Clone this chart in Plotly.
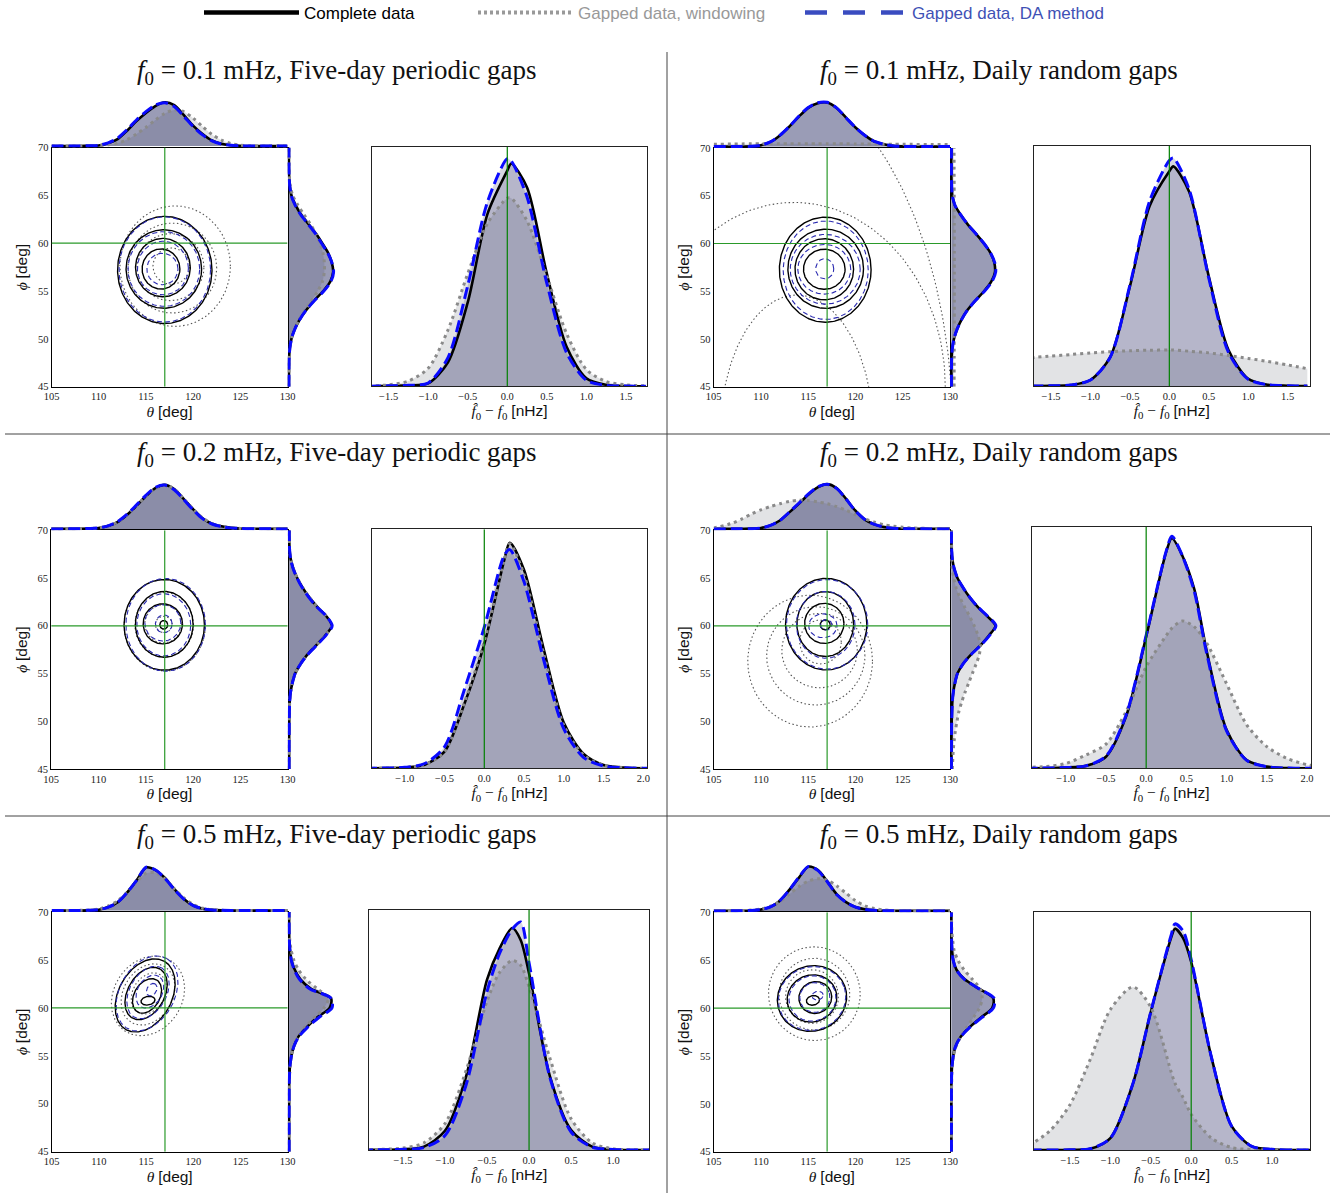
import numpy as np
import plotly.graph_objects as go

# ======================= DATA =======================
LEGEND_LABELS = ["Complete data", "Gapped data, windowing", "Gapped data, DA method"]
PANEL_TITLES = [
    "<i>f</i><sub>0</sub> = 0.1 mHz, Five-day periodic gaps",
    "<i>f</i><sub>0</sub> = 0.1 mHz, Daily random gaps",
    "<i>f</i><sub>0</sub> = 0.2 mHz, Five-day periodic gaps",
    "<i>f</i><sub>0</sub> = 0.2 mHz, Daily random gaps",
    "<i>f</i><sub>0</sub> = 0.5 mHz, Five-day periodic gaps",
    "<i>f</i><sub>0</sub> = 0.5 mHz, Daily random gaps",
]
THETA_TRUE = 117.0
PHI_TRUE = 60.0
FREQ_TRUE = 0.0
THETA_RANGE = [105, 130]
PHI_RANGE = [45, 70]
THETA_TICKS = [105, 110, 115, 120, 125, 130]
PHI_TICKS = [45, 50, 55, 60, 65, 70]
FREQ_TICKS_A = [-1.5, -1.0, -0.5, 0.0, 0.5, 1.0, 1.5]
FREQ_TICKS_B = [-1.0, -0.5, 0.0, 0.5, 1.0, 1.5, 2.0]
FREQ_TICKS_C = [-1.5, -1.0, -0.5, 0.0, 0.5, 1.0]

TH = [105, 107, 108, 109, 110, 111, 112, 113, 114, 115, 116, 117, 118, 119, 120, 121, 122, 123, 124, 125, 126, 128, 130]
PH = [45, 47, 48, 49, 50, 51, 52, 53, 54, 55, 56, 57, 58, 59, 60, 61, 62, 63, 64, 65, 66, 67, 68, 70]

P1_FREQ_X = [-1.75, -1.5, -1.25, -1.0, -0.75, -0.5, -0.25, 0.0, 0.05, 0.25, 0.5, 0.75, 1.0, 1.25, 1.5, 1.75]
P1_FREQ_COMPLETE = [0, 0.002, 0.004, 0.012, 0.10, 0.35, 0.72, 0.90, 0.93, 0.83, 0.47, 0.165, 0.033, 0.006, 0.001, 0]
P1_FREQ_WINDOW = [0.002, 0.006, 0.022, 0.075, 0.235, 0.47, 0.68, 0.785, 0.785, 0.69, 0.46, 0.22, 0.07, 0.02, 0.006, 0.002]
P1_FREQ_DA = [0, 0.002, 0.004, 0.014, 0.12, 0.42, 0.77, 0.95, 0.94, 0.79, 0.43, 0.14, 0.025, 0.004, 0.001, 0]
P1_THETA_COMPLETE = [0, 0.001, 0.003, 0.007, 0.014, 0.06, 0.15, 0.33, 0.535, 0.71, 0.86, 0.94, 0.88, 0.67, 0.44, 0.26, 0.12, 0.05, 0.02, 0.006, 0.002, 0, 0]
P1_THETA_WINDOW = [0, 0.001, 0.002, 0.005, 0.01, 0.03, 0.06, 0.14, 0.26, 0.40, 0.56, 0.70, 0.775, 0.74, 0.60, 0.42, 0.25, 0.13, 0.055, 0.02, 0.008, 0.001, 0]
P1_THETA_DA = [0, 0.001, 0.003, 0.008, 0.018, 0.07, 0.17, 0.35, 0.56, 0.74, 0.88, 0.93, 0.85, 0.64, 0.42, 0.24, 0.11, 0.045, 0.017, 0.005, 0.002, 0, 0]
P1_PHI_COMPLETE = [0, 0.002, 0.005, 0.02, 0.055, 0.125, 0.23, 0.37, 0.54, 0.74, 0.89, 0.95, 0.92, 0.84, 0.715, 0.58, 0.42, 0.26, 0.14, 0.055, 0.02, 0.005, 0.001, 0]
P1_PHI_WINDOW = [0, 0.002, 0.005, 0.02, 0.055, 0.12, 0.22, 0.35, 0.49, 0.62, 0.72, 0.76, 0.76, 0.73, 0.67, 0.58, 0.46, 0.32, 0.19, 0.08, 0.03, 0.01, 0.003, 0]
P1_PHI_DA = [0, 0.002, 0.005, 0.02, 0.055, 0.125, 0.23, 0.37, 0.55, 0.75, 0.90, 0.96, 0.92, 0.83, 0.70, 0.57, 0.41, 0.25, 0.13, 0.05, 0.018, 0.005, 0.001, 0]
P1_CONT_COMPLETE = [(117.0, 57.2, 5.0, 5.6, 0), (116.9, 57.3, 4.0, 4.1, 0), (116.8, 57.45, 2.9, 3.05, 0), (116.6, 57.3, 2.0, 2.1, 0)]
P1_CONT_WINDOW = [(118.1, 57.6, 5.85, 6.3, 0), (117.8, 57.4, 4.7, 4.7, 0), (117.6, 57.5, 3.55, 3.5, 0), (117.7, 57.6, 1.95, 1.9, 0)]
P1_CONT_DA = [(117.0, 57.25, 4.85, 5.5, 0), (116.9, 57.3, 3.8, 3.9, 0), (116.8, 57.4, 2.7, 2.8, 0), (116.75, 57.3, 1.65, 1.65, 0)]

P2_FREQ_X = [-1.75, -1.5, -1.25, -1.0, -0.75, -0.5, -0.25, 0.0, 0.05, 0.25, 0.5, 0.75, 1.0, 1.25, 1.5, 1.75]
P2_FREQ_COMPLETE = [0, 0.001, 0.004, 0.025, 0.12, 0.415, 0.75, 0.895, 0.915, 0.81, 0.457, 0.15, 0.03, 0.005, 0.001, 0]
P2_FREQ_WINDOW = [0.118, 0.125, 0.131, 0.138, 0.143, 0.147, 0.149, 0.15, 0.15, 0.145, 0.138, 0.127, 0.115, 0.102, 0.088, 0.072]
P2_FREQ_DA = [0, 0.001, 0.004, 0.025, 0.12, 0.42, 0.77, 0.94, 0.95, 0.82, 0.45, 0.14, 0.028, 0.005, 0.001, 0]
P2_THETA_COMPLETE = [0, 0.001, 0.002, 0.005, 0.03, 0.10, 0.24, 0.43, 0.64, 0.83, 0.93, 0.945, 0.83, 0.62, 0.41, 0.24, 0.11, 0.05, 0.015, 0.004, 0.001, 0, 0]
P2_THETA_WINDOW = [0.05, 0.055, 0.058, 0.06, 0.061, 0.062, 0.063, 0.063, 0.063, 0.062, 0.062, 0.061, 0.06, 0.059, 0.058, 0.056, 0.055, 0.053, 0.051, 0.05, 0.048, 0.045, 0.042]
P2_THETA_DA = [0, 0.001, 0.002, 0.005, 0.03, 0.10, 0.24, 0.43, 0.65, 0.84, 0.94, 0.95, 0.83, 0.62, 0.41, 0.24, 0.11, 0.05, 0.015, 0.004, 0.001, 0, 0]
P2_PHI_COMPLETE = [0, 0.002, 0.005, 0.02, 0.055, 0.12, 0.215, 0.34, 0.51, 0.70, 0.855, 0.935, 0.92, 0.84, 0.70, 0.53, 0.35, 0.20, 0.076, 0.02, 0.005, 0.001, 0, 0]
P2_PHI_WINDOW = [0.058, 0.059, 0.06, 0.06, 0.061, 0.061, 0.062, 0.062, 0.062, 0.062, 0.062, 0.062, 0.062, 0.062, 0.062, 0.062, 0.061, 0.061, 0.06, 0.06, 0.059, 0.059, 0.058, 0.057]
P2_PHI_DA = [0, 0.002, 0.005, 0.02, 0.055, 0.12, 0.215, 0.34, 0.51, 0.71, 0.87, 0.95, 0.93, 0.84, 0.70, 0.53, 0.35, 0.20, 0.076, 0.02, 0.005, 0.001, 0, 0]
P2_CONT_COMPLETE = [(116.8, 57.25, 4.85, 5.5, 0), (116.85, 57.35, 4.0, 4.15, 0), (116.7, 57.3, 3.1, 3.2, 0), (116.7, 57.3, 2.2, 2.1, 0)]
P2_CONT_WINDOW = [(110.0, 40.0, 20.3, 38.0, 0), (113.5, 45.0, 16.0, 19.3, 0), (113.8, 40.0, 8.1, 14.6, 0)]
P2_CONT_DA = [(116.85, 57.2, 4.5, 5.15, 0), (116.8, 57.3, 3.7, 3.65, 0), (116.7, 57.3, 2.8, 2.6, 0), (116.75, 57.35, 0.95, 1.05, 0)]

P3_FREQ_X = [-1.5, -1.25, -1.0, -0.75, -0.5, -0.25, 0.0, 0.25, 0.32, 0.5, 0.75, 1.0, 1.25, 1.5, 1.75, 2.0, 2.1]
P3_FREQ_COMPLETE = [0, 0.001, 0.003, 0.015, 0.07, 0.27, 0.52, 0.87, 0.944, 0.83, 0.495, 0.19, 0.06, 0.014, 0.003, 0, 0]
P3_FREQ_WINDOW = [0, 0.001, 0.003, 0.015, 0.07, 0.275, 0.53, 0.87, 0.94, 0.81, 0.475, 0.18, 0.055, 0.013, 0.003, 0, 0]
P3_FREQ_DA = [0, 0.001, 0.004, 0.02, 0.09, 0.33, 0.59, 0.89, 0.915, 0.78, 0.45, 0.165, 0.045, 0.01, 0.002, 0, 0]
P3_THETA_COMPLETE = [0, 0.001, 0.003, 0.008, 0.02, 0.06, 0.145, 0.30, 0.49, 0.70, 0.875, 0.945, 0.855, 0.645, 0.425, 0.23, 0.11, 0.055, 0.025, 0.01, 0.004, 0.001, 0]
P3_THETA_WINDOW = [0, 0.001, 0.003, 0.008, 0.02, 0.062, 0.15, 0.30, 0.49, 0.70, 0.87, 0.94, 0.86, 0.65, 0.43, 0.235, 0.115, 0.057, 0.026, 0.011, 0.005, 0.001, 0]
P3_THETA_DA = [0, 0.001, 0.003, 0.009, 0.022, 0.065, 0.155, 0.31, 0.51, 0.72, 0.89, 0.94, 0.84, 0.63, 0.41, 0.22, 0.105, 0.05, 0.022, 0.009, 0.004, 0.001, 0]
P3_PHI_COMPLETE = [0, 0, 0.001, 0.002, 0.003, 0.006, 0.012, 0.03, 0.07, 0.13, 0.245, 0.395, 0.59, 0.78, 0.915, 0.80, 0.60, 0.43, 0.29, 0.175, 0.09, 0.035, 0.01, 0.003]
P3_PHI_WINDOW = [0, 0, 0.001, 0.002, 0.003, 0.006, 0.012, 0.03, 0.07, 0.13, 0.245, 0.40, 0.59, 0.78, 0.91, 0.80, 0.60, 0.43, 0.29, 0.175, 0.09, 0.035, 0.01, 0.003]
P3_PHI_DA = [0, 0, 0.001, 0.002, 0.003, 0.006, 0.012, 0.03, 0.07, 0.13, 0.245, 0.40, 0.60, 0.79, 0.925, 0.80, 0.59, 0.42, 0.28, 0.17, 0.085, 0.033, 0.01, 0.003]
P3_CONT_COMPLETE = [(116.95, 60.1, 4.25, 4.75, 0), (116.95, 60.15, 3.05, 3.45, 0), (116.8, 60.2, 2.08, 2.1, 0), (116.9, 60.1, 0.42, 0.45, 0)]
P3_CONT_WINDOW = [(117.0, 60.05, 4.3, 4.8, 0), (116.95, 60.1, 3.1, 3.4, 0), (116.85, 60.2, 1.95, 2.0, 0), (116.9, 60.15, 0.9, 0.85, 0)]
P3_CONT_DA = [(117.1, 60.1, 4.2, 4.85, 0), (116.9, 60.1, 2.85, 3.25, 0), (116.8, 60.3, 1.9, 1.9, 0), (116.9, 60.2, 0.88, 0.93, 0)]

P4_FREQ_X = [-1.5, -1.25, -1.0, -0.75, -0.5, -0.25, 0.0, 0.25, 0.32, 0.45, 0.6, 0.75, 1.0, 1.25, 1.5, 1.75, 2.0, 2.1]
P4_FREQ_COMPLETE = [0, 0.001, 0.003, 0.01, 0.048, 0.215, 0.545, 0.897, 0.952, 0.88, 0.74, 0.49, 0.159, 0.034, 0.007, 0.001, 0, 0]
P4_FREQ_WINDOW = [0.004, 0.007, 0.02, 0.055, 0.10, 0.235, 0.42, 0.55, 0.58, 0.61, 0.585, 0.52, 0.35, 0.18, 0.09, 0.041, 0.015, 0.01]
P4_FREQ_DA = [0, 0.001, 0.003, 0.01, 0.05, 0.22, 0.55, 0.90, 0.96, 0.88, 0.73, 0.48, 0.155, 0.033, 0.007, 0.001, 0, 0]
P4_THETA_COMPLETE = [0, 0.001, 0.002, 0.005, 0.02, 0.075, 0.18, 0.355, 0.54, 0.735, 0.89, 0.96, 0.875, 0.645, 0.39, 0.20, 0.097, 0.04, 0.015, 0.005, 0.002, 0, 0]
P4_THETA_WINDOW = [0.02, 0.125, 0.215, 0.32, 0.41, 0.48, 0.54, 0.59, 0.615, 0.61, 0.58, 0.54, 0.48, 0.40, 0.305, 0.215, 0.145, 0.09, 0.06, 0.035, 0.02, 0.008, 0.002]
P4_THETA_DA = [0, 0.001, 0.002, 0.005, 0.02, 0.075, 0.18, 0.36, 0.55, 0.745, 0.90, 0.96, 0.87, 0.64, 0.385, 0.20, 0.095, 0.04, 0.015, 0.005, 0.002, 0, 0]
P4_PHI_COMPLETE = [0, 0.001, 0.002, 0.004, 0.007, 0.012, 0.02, 0.04, 0.076, 0.13, 0.25, 0.425, 0.635, 0.81, 0.945, 0.77, 0.56, 0.39, 0.25, 0.13, 0.06, 0.02, 0.005, 0]
P4_PHI_WINDOW = [0.02, 0.04, 0.06, 0.085, 0.12, 0.16, 0.22, 0.29, 0.37, 0.45, 0.53, 0.60, 0.62, 0.57, 0.49, 0.39, 0.28, 0.18, 0.10, 0.05, 0.02, 0.01, 0.005, 0]
P4_PHI_DA = [0, 0.001, 0.002, 0.004, 0.007, 0.012, 0.02, 0.04, 0.076, 0.13, 0.25, 0.425, 0.64, 0.82, 0.955, 0.78, 0.56, 0.39, 0.25, 0.13, 0.06, 0.02, 0.005, 0]
P4_CONT_COMPLETE = [(116.9, 60.17, 4.3, 4.8, 0), (116.8, 60.18, 3.0, 3.4, 0), (116.7, 60.25, 2.08, 2.1, 0), (116.8, 60.1, 0.53, 0.52, 0)]
P4_CONT_WINDOW = [(115.2, 56.3, 6.6, 6.9, 0), (115.8, 56.85, 5.2, 5.15, 0), (116.2, 57.4, 4.0, 3.9, 0), (116.3, 58.3, 2.2, 2.3, 0)]
P4_CONT_DA = [(117.0, 60.15, 4.3, 4.7, 0), (116.85, 60.1, 3.1, 3.5, 0), (116.55, 60.0, 1.5, 1.25, 0), (116.9, 60.1, 0.6, 0.55, 0)]

P5_FREQ_X = [-2.0, -1.75, -1.5, -1.25, -1.0, -0.75, -0.5, -0.35, -0.2, -0.1, 0.0, 0.25, 0.5, 0.75, 1.0, 1.25, 1.5]
P5_FREQ_COMPLETE = [0, 0.001, 0.003, 0.014, 0.08, 0.305, 0.71, 0.84, 0.925, 0.875, 0.736, 0.305, 0.083, 0.014, 0.002, 0, 0]
P5_FREQ_WINDOW = [0, 0.003, 0.008, 0.03, 0.11, 0.33, 0.62, 0.74, 0.79, 0.77, 0.68, 0.38, 0.13, 0.03, 0.005, 0.001, 0]
P5_FREQ_DA = [0, 0.001, 0.003, 0.01, 0.06, 0.27, 0.66, 0.82, 0.92, 0.95, 0.78, 0.30, 0.075, 0.012, 0.002, 0, 0]
P5_THETA_COMPLETE = [0, 0.001, 0.003, 0.008, 0.02, 0.076, 0.18, 0.39, 0.65, 0.925, 0.87, 0.70, 0.46, 0.25, 0.11, 0.04, 0.015, 0.005, 0.001, 0, 0, 0, 0]
P5_THETA_WINDOW = [0, 0.002, 0.005, 0.013, 0.035, 0.10, 0.21, 0.40, 0.62, 0.80, 0.81, 0.68, 0.47, 0.27, 0.13, 0.05, 0.02, 0.006, 0.002, 0, 0, 0, 0]
P5_THETA_DA = [0, 0.001, 0.003, 0.008, 0.02, 0.076, 0.18, 0.39, 0.65, 0.93, 0.87, 0.69, 0.45, 0.245, 0.105, 0.04, 0.015, 0.005, 0.001, 0, 0, 0, 0]
P5_PHI_COMPLETE = [0, 0, 0, 0, 0.001, 0.001, 0.002, 0.008, 0.02, 0.05, 0.104, 0.20, 0.38, 0.60, 0.87, 0.90, 0.465, 0.24, 0.12, 0.05, 0.02, 0.005, 0.001, 0]
P5_PHI_WINDOW = [0, 0, 0, 0, 0.001, 0.002, 0.004, 0.01, 0.025, 0.05, 0.10, 0.19, 0.34, 0.55, 0.75, 0.84, 0.60, 0.36, 0.20, 0.10, 0.045, 0.015, 0.005, 0]
P5_PHI_DA = [0, 0, 0, 0, 0.001, 0.001, 0.002, 0.008, 0.02, 0.05, 0.104, 0.21, 0.40, 0.64, 0.92, 0.90, 0.44, 0.22, 0.11, 0.045, 0.018, 0.005, 0.001, 0]
P5_CONT_COMPLETE = [(114.9, 61.3, 4.1, 2.8, 60), (115.0, 61.5, 2.95, 1.95, 60), (115.1, 61.25, 1.95, 1.35, 58), (115.2, 60.75, 0.75, 0.45, 10)]
P5_CONT_WINDOW = [(115.2, 61.25, 4.4, 3.6, 55), (115.2, 61.4, 3.4, 2.6, 58), (115.3, 61.5, 2.3, 1.7, 58)]
P5_CONT_DA = [(115.1, 61.5, 4.2, 2.9, 60), (115.2, 61.6, 2.95, 1.95, 60), (115.4, 61.7, 1.85, 1.3, 58), (115.6, 61.9, 0.7, 0.5, 60)]

P6_FREQ_X = [-2.0, -1.75, -1.5, -1.25, -1.0, -0.72, -0.5, -0.25, -0.2, -0.1, 0.0, 0.25, 0.5, 0.75, 1.0, 1.25, 1.5]
P6_FREQ_COMPLETE = [0, 0, 0.001, 0.005, 0.05, 0.28, 0.58, 0.89, 0.93, 0.89, 0.79, 0.39, 0.10, 0.015, 0.003, 0, 0]
P6_FREQ_WINDOW = [0.02, 0.08, 0.19, 0.38, 0.59, 0.685, 0.60, 0.33, 0.28, 0.22, 0.15, 0.05, 0.01, 0.002, 0, 0, 0]
P6_FREQ_DA = [0, 0, 0.001, 0.005, 0.05, 0.28, 0.58, 0.90, 0.95, 0.92, 0.80, 0.39, 0.10, 0.015, 0.003, 0, 0]
P6_THETA_COMPLETE = [0, 0.001, 0.003, 0.01, 0.03, 0.085, 0.22, 0.45, 0.71, 0.95, 0.88, 0.64, 0.36, 0.19, 0.083, 0.035, 0.012, 0.004, 0.001, 0, 0, 0, 0]
P6_THETA_WINDOW = [0, 0.003, 0.008, 0.02, 0.04, 0.10, 0.20, 0.36, 0.52, 0.64, 0.69, 0.66, 0.54, 0.38, 0.22, 0.11, 0.05, 0.02, 0.007, 0.002, 0, 0, 0]
P6_THETA_DA = [0, 0.001, 0.003, 0.01, 0.03, 0.085, 0.22, 0.45, 0.72, 0.95, 0.87, 0.63, 0.35, 0.185, 0.08, 0.033, 0.012, 0.004, 0.001, 0, 0, 0, 0]
P6_PHI_COMPLETE = [0, 0, 0, 0, 0, 0, 0, 0.005, 0.015, 0.04, 0.09, 0.20, 0.39, 0.63, 0.875, 0.90, 0.60, 0.285, 0.11, 0.04, 0.015, 0.005, 0.001, 0]
P6_PHI_WINDOW = [0, 0, 0, 0, 0, 0, 0.005, 0.008, 0.015, 0.045, 0.10, 0.20, 0.33, 0.47, 0.60, 0.66, 0.62, 0.45, 0.27, 0.14, 0.06, 0.03, 0.01, 0]
P6_PHI_DA = [0, 0, 0, 0, 0, 0, 0, 0.005, 0.015, 0.04, 0.09, 0.20, 0.40, 0.65, 0.90, 0.92, 0.60, 0.28, 0.105, 0.038, 0.014, 0.005, 0.001, 0]
P6_CONT_COMPLETE = [(115.4, 61.0, 3.7, 3.4, 20), (115.4, 61.0, 2.65, 2.45, 20), (115.75, 61.1, 1.75, 1.65, 20), (115.5, 60.8, 0.7, 0.5, 10)]
P6_CONT_WINDOW = [(115.65, 61.5, 4.85, 4.9, 20), (115.65, 61.45, 3.75, 3.75, 20), (115.4, 61.2, 2.8, 2.8, 20)]
P6_CONT_DA = [(115.4, 61.0, 3.6, 3.3, 20), (115.45, 61.0, 2.5, 2.35, 20), (115.7, 61.1, 1.6, 1.55, 20), (116.0, 61.3, 0.6, 0.45, 10)]

# ======================= LAYOUT (pixel geometry, styles) =======================
W, H = 1335, 1194

PANELS = [
    dict(title=PANEL_TITLES[0], tx=337, ty=72, cbox=(51.5, 287.5, 147.5, 386.7), fbox=(371.7, 647.3, 146.7, 386.3), frange=(-1.714, 1.77), fticks=FREQ_TICKS_A,
         fx=P1_FREQ_X, fc=P1_FREQ_COMPLETE, fw=P1_FREQ_WINDOW, fd=P1_FREQ_DA,
         tc=P1_THETA_COMPLETE, tw=P1_THETA_WINDOW, td=P1_THETA_DA,
         pc=P1_PHI_COMPLETE, pw=P1_PHI_WINDOW, pd=P1_PHI_DA,
         cc=P1_CONT_COMPLETE, cw=P1_CONT_WINDOW, cd=P1_CONT_DA),
    dict(title=PANEL_TITLES[1], tx=999, ty=72, cbox=(713.7, 950.0, 148.0, 386.7), fbox=(1033.7, 1309.7, 146.0, 386.0), frange=(-1.72, 1.78), fticks=FREQ_TICKS_A,
         fx=P2_FREQ_X, fc=P2_FREQ_COMPLETE, fw=P2_FREQ_WINDOW, fd=P2_FREQ_DA,
         tc=P2_THETA_COMPLETE, tw=P2_THETA_WINDOW, td=P2_THETA_DA,
         pc=P2_PHI_COMPLETE, pw=P2_PHI_WINDOW, pd=P2_PHI_DA,
         cc=P2_CONT_COMPLETE, cw=P2_CONT_WINDOW, cd=P2_CONT_DA),
    dict(title=PANEL_TITLES[2], tx=337, ty=454, cbox=(51.2, 287.7, 530.3, 769.0), fbox=(371.7, 647.3, 529.3, 768.3), frange=(-1.416, 2.05), fticks=FREQ_TICKS_B,
         fx=P3_FREQ_X, fc=P3_FREQ_COMPLETE, fw=P3_FREQ_WINDOW, fd=P3_FREQ_DA,
         tc=P3_THETA_COMPLETE, tw=P3_THETA_WINDOW, td=P3_THETA_DA,
         pc=P3_PHI_COMPLETE, pw=P3_PHI_WINDOW, pd=P3_PHI_DA,
         cc=P3_CONT_COMPLETE, cw=P3_CONT_WINDOW, cd=P3_CONT_DA),
    dict(title=PANEL_TITLES[3], tx=999, ty=454, cbox=(713.7, 950.0, 530.3, 769.0), fbox=(1032.0, 1311.0, 526.7, 768.3), frange=(-1.42, 2.05), fticks=FREQ_TICKS_B,
         fx=P4_FREQ_X, fc=P4_FREQ_COMPLETE, fw=P4_FREQ_WINDOW, fd=P4_FREQ_DA,
         tc=P4_THETA_COMPLETE, tw=P4_THETA_WINDOW, td=P4_THETA_DA,
         pc=P4_PHI_COMPLETE, pw=P4_PHI_WINDOW, pd=P4_PHI_DA,
         cc=P4_CONT_COMPLETE, cw=P4_CONT_WINDOW, cd=P4_CONT_DA),
    dict(title=PANEL_TITLES[4], tx=337, ty=836, cbox=(51.7, 287.7, 912.0, 1151.7), fbox=(369.3, 649.3, 910.0, 1150.0), frange=(-1.90, 1.43), fticks=FREQ_TICKS_C,
         fx=P5_FREQ_X, fc=P5_FREQ_COMPLETE, fw=P5_FREQ_WINDOW, fd=P5_FREQ_DA,
         tc=P5_THETA_COMPLETE, tw=P5_THETA_WINDOW, td=P5_THETA_DA,
         pc=P5_PHI_COMPLETE, pw=P5_PHI_WINDOW, pd=P5_PHI_DA,
         cc=P5_CONT_COMPLETE, cw=P5_CONT_WINDOW, cd=P5_CONT_DA),
    dict(title=PANEL_TITLES[5], tx=999, ty=836, cbox=(713.7, 950.0, 912.3, 1151.7), fbox=(1034.0, 1310.0, 912.0, 1150.0), frange=(-1.945, 1.47), fticks=FREQ_TICKS_C,
         fx=P6_FREQ_X, fc=P6_FREQ_COMPLETE, fw=P6_FREQ_WINDOW, fd=P6_FREQ_DA,
         tc=P6_THETA_COMPLETE, tw=P6_THETA_WINDOW, td=P6_THETA_DA,
         pc=P6_PHI_COMPLETE, pw=P6_PHI_WINDOW, pd=P6_PHI_DA,
         cc=P6_CONT_COMPLETE, cw=P6_CONT_WINDOW, cd=P6_CONT_DA),
]

SERIF = "Liberation Serif"
SANS = "Liberation Sans"
TICKFONT = dict(family=SERIF, size=10.5, color="#222222")
AXTITLEFONT = dict(family=SERIF, size=15.5, color="#111111")
MARG_H = 48

BLACK = "#000000"
GRAY = "#8a8a8a"
BLUE = "#0a0aff"
CBLUE = "#2a2ab0"
GREEN = "#2a9a2a"
FILL_WIN = "rgba(150,153,160,0.28)"
FILL_F = "rgba(40,45,100,0.19)"
FILL_M = "rgba(40,45,100,0.27)"


def pxx(x):
    return x / W


def pyy(y):
    return 1 - y / H


fig = go.Figure()
layout = {}
counter = [0]
shapes = []


def new_axes(xdom, ydom, xkw, ykw):
    counter[0] += 1
    n = "" if counter[0] == 1 else str(counter[0])
    layout["xaxis" + n] = dict(domain=xdom, anchor="y" + n, **xkw)
    layout["yaxis" + n] = dict(domain=ydom, anchor="x" + n, **ykw)
    return "x" + n, "y" + n


HIDDEN = dict(visible=False, showgrid=False, zeroline=False, showline=False, fixedrange=True)


def ellipse_segments(levels):
    """one list of (x, y) runs per contour level; parts outside the axis box are dropped"""
    runs = []
    t = np.linspace(0, 2 * np.pi, 241)
    pad = 0.6
    for (cx, cy, a, b, ang) in levels:
        c, s = np.cos(np.radians(ang)), np.sin(np.radians(ang))
        ex = cx + a * np.cos(t) * c - b * np.sin(t) * s
        ey = cy + a * np.cos(t) * s + b * np.sin(t) * c
        inside = ((ex > THETA_RANGE[0] - pad) & (ex < THETA_RANGE[1] + pad) &
                  (ey > PHI_RANGE[0] - pad) & (ey < PHI_RANGE[1] + pad))
        cur_x, cur_y = [], []
        for xv, yv, ok in zip(ex, ey, inside):
            if ok:
                cur_x.append(float(xv))
                cur_y.append(float(yv))
            elif cur_x:
                runs.append((cur_x, cur_y))
                cur_x, cur_y = [], []
        if cur_x:
            runs.append((cur_x, cur_y))
    return runs


def add_density(xa, ya, xvals, series, fill_dc, horizontal=False):
    fills = [(series[1], FILL_WIN), (series[0], fill_dc), (series[2], fill_dc)]
    for vals, fc in fills:
        xy = dict(x=vals, y=xvals) if horizontal else dict(x=xvals, y=vals)
        fig.add_trace(go.Scatter(**xy, xaxis=xa, yaxis=ya, mode="lines",
                                 fill="tozerox" if horizontal else "tozeroy",
                                 fillcolor=fc, line=dict(width=0, shape="spline", smoothing=0.8),
                                 showlegend=False, hoverinfo="skip"))
    styles = [(series[0], dict(color=BLACK, width=2.6)),
              (series[1], dict(color=GRAY, width=3, dash="3px,4px")),
              (series[2], dict(color=BLUE, width=3, dash="12px,5px"))]
    for vals, ls in styles:
        ls = dict(ls, shape="spline", smoothing=0.8)
        xy = dict(x=vals, y=xvals) if horizontal else dict(x=xvals, y=vals)
        fig.add_trace(go.Scatter(**xy, xaxis=xa, yaxis=ya, mode="lines", line=ls,
                                 showlegend=False, hoverinfo="skip"))


annotations = []
for p in PANELS:
    x0, x1, y0, y1 = p["cbox"]
    cxa, cya = new_axes(
        [pxx(x0), pxx(x1)], [pyy(y1), pyy(y0)],
        dict(range=THETA_RANGE, tickvals=THETA_TICKS, ticks="", showgrid=False, zeroline=False,
             showline=True, mirror=True, linecolor="black", linewidth=1, tickfont=TICKFONT,
             title=dict(text='<i>θ</i> <span style="font-family:Liberation Sans">[deg]</span>', font=AXTITLEFONT, standoff=4)),
        dict(range=PHI_RANGE, tickvals=PHI_TICKS, ticks="", showgrid=False, zeroline=False,
             showline=True, mirror=True, linecolor="black", linewidth=1, tickfont=TICKFONT,
             title=dict(text='<i>ϕ</i> <span style="font-family:Liberation Sans">[deg]</span>', font=AXTITLEFONT, standoff=6)))
    for levels, ls in [(p["cw"], dict(color="#555555", width=1.1, dash="1.5px,2.5px")),
                       (p["cc"], dict(color=BLACK, width=1.4)),
                       (p["cd"], dict(color=CBLUE, width=1.1, dash="5px,3px"))]:
        for rx, ry in ellipse_segments(levels):
            fig.add_trace(go.Scatter(x=rx, y=ry, xaxis=cxa, yaxis=cya, mode="lines", line=ls,
                                     showlegend=False, hoverinfo="skip"))
    shapes.append(dict(type="line", xref=cxa, yref=cya, x0=THETA_TRUE, x1=THETA_TRUE,
                       y0=PHI_RANGE[0], y1=PHI_RANGE[1], layer="above", line=dict(color=GREEN, width=1.2)))
    shapes.append(dict(type="line", xref=cxa, yref=cya, x0=THETA_RANGE[0], x1=THETA_RANGE[1],
                       y0=PHI_TRUE, y1=PHI_TRUE, layer="above", line=dict(color=GREEN, width=1.2)))

    txa, tya = new_axes([pxx(x0), pxx(x1)], [pyy(y0), pyy(y0 - MARG_H)],
                        dict(HIDDEN, range=THETA_RANGE), dict(HIDDEN, range=[-0.03, 1.0]))
    add_density(txa, tya, TH, (p["tc"], p["tw"], p["td"]), FILL_M)

    rxa, rya = new_axes([pxx(x1), pxx(x1 + MARG_H)], [pyy(y1), pyy(y0)],
                        dict(HIDDEN, range=[-0.03, 1.0]), dict(HIDDEN, range=PHI_RANGE))
    add_density(rxa, rya, PH, (p["pc"], p["pw"], p["pd"]), FILL_M, horizontal=True)

    fx0, fx1, fy0, fy1 = p["fbox"]
    fxa, fya = new_axes(
        [pxx(fx0), pxx(fx1)], [pyy(fy1), pyy(fy0)],
        dict(range=list(p["frange"]), tickvals=p["fticks"], tickformat=".1f", ticks="", showgrid=False,
             zeroline=False, showline=True, mirror=True, linecolor="#222222", linewidth=1, tickfont=TICKFONT,
             title=dict(text='<i>f̂</i><sub>0</sub> − <i>f</i><sub>0</sub> <span style="font-family:Liberation Sans">[nHz]</span>',
                        font=AXTITLEFONT, standoff=4)),
        dict(range=[0, 1.0], showticklabels=False, ticks="", showgrid=False, zeroline=False,
             showline=True, mirror=True, linecolor="#222222", linewidth=1))
    add_density(fxa, fya, p["fx"], (p["fc"], p["fw"], p["fd"]), FILL_F)
    shapes.append(dict(type="line", xref=fxa, yref=fya, x0=FREQ_TRUE, x1=FREQ_TRUE, y0=0, y1=1,
                       layer="above", line=dict(color="#008000", width=1.2)))

    annotations.append(dict(text=p["title"], x=pxx(p["tx"]), y=pyy(p["ty"]), xref="paper", yref="paper",
                            xanchor="center", yanchor="middle", showarrow=False,
                            font=dict(family=SERIF, size=27, color="#111111")))

# ---- legend entries (three separate legends), placed on a hidden helper axis
hxa, hya = new_axes([0, 0.01], [0.99, 1.0], dict(HIDDEN), dict(HIDDEN))
leg_styles = [dict(color=BLACK, width=4.5), dict(color="#999999", width=4, dash="3px,3px"),
              dict(color="#3a4cc0", width=4.5, dash="22px,16px")]
leg_names = ["legend", "legend2", "legend3"]
for name, ls, lg in zip(LEGEND_LABELS, leg_styles, leg_names):
    fig.add_trace(go.Scatter(x=[None], y=[None], xaxis=hxa, yaxis=hya, mode="lines", line=ls, name=name,
                             legend=lg, showlegend=True))

leg_common = dict(orientation="h", yanchor="middle", xanchor="left",
                  bgcolor="rgba(0,0,0,0)", borderwidth=0, y=pyy(13))
layout["legend"] = dict(leg_common, x=pxx(199), itemwidth=95, font=dict(family=SANS, size=17, color="#000000"))
layout["legend2"] = dict(leg_common, x=pxx(473), itemwidth=95, font=dict(family=SANS, size=17, color="#999999"))
layout["legend3"] = dict(leg_common, x=pxx(800), itemwidth=102, font=dict(family=SANS, size=17, color="#3f51b5"))

shapes += [
    dict(type="line", xref="paper", yref="paper", x0=pxx(667), x1=pxx(667), y0=pyy(52), y1=pyy(1193),
         line=dict(color="#444444", width=1)),
    dict(type="line", xref="paper", yref="paper", x0=pxx(5), x1=pxx(1330), y0=pyy(434), y1=pyy(434),
         line=dict(color="#444444", width=1)),
    dict(type="line", xref="paper", yref="paper", x0=pxx(5), x1=pxx(1330), y0=pyy(816), y1=pyy(816),
         line=dict(color="#444444", width=1)),
]

fig.update_layout(**layout)
fig.update_layout(width=W, height=H, autosize=False,
                  margin=dict(l=0, r=0, t=0, b=0, pad=0, autoexpand=False),
                  paper_bgcolor="white", plot_bgcolor="white", annotations=annotations, shapes=shapes,
                  hovermode=False)

fig.write_html("out.html", config={"displayModeBar": False},
               post_script="document.body.style.margin='0';")
